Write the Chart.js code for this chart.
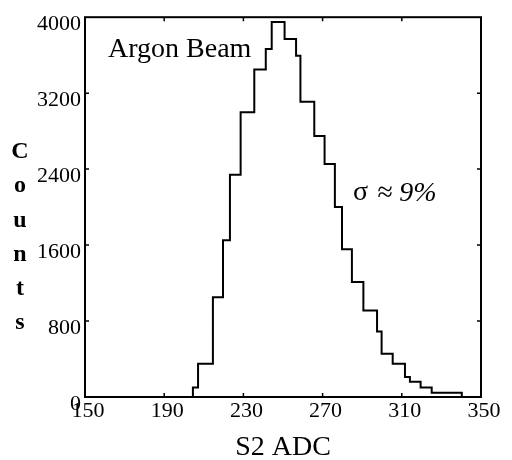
<!DOCTYPE html>
<html><head><meta charset="utf-8">
<script src="https://cdn.jsdelivr.net/npm/chart.js@4/dist/chart.umd.min.js"></script>
<style>html,body{margin:0;padding:0;background:#fff}#wrap{width:512px;height:460px}</style>
</head><body><div id="wrap"><canvas id="c" width="512" height="460"></canvas></div>
<script>
// Histogram: left edge of each bin (S2 ADC) and its count
const binEdges = [204.5, 207.1, 214.6, 219.7, 223.2, 228.6, 235.5, 241.3, 244.3, 250.8, 256.6, 258.8, 265.8, 271.0, 276.2, 279.8, 284.8, 290.6, 297.5, 299.8, 305.4, 311.6, 314.1, 319.5, 325.1, 340.3];
const counts   = [100, 350, 1050, 1650, 2340, 3000, 3450, 3665, 3950, 3770, 3595, 3110, 2750, 2455, 2000, 1555, 1210, 910, 690, 455, 350, 210, 160, 100, 45, 0];
const xTicks = [150, 190, 230, 270, 310, 350];
const yTicks = [0, 800, 1600, 2400, 3200, 4000];
const xTitle = 'S2 ADC';
const yTitleLetters = ['C', 'o', 'u', 'n', 't', 's'];
const labelMain = 'Argon Beam';
const labelSigmaSym = 'σ';
const labelSigmaVal = '≈ 9%';

// each point: horizontal run at the previous height up to this edge, then step to this bin's count
const points = [{x: xTicks[0], y: 0}].concat(binEdges.map((e, i) => ({x: e, y: counts[i]}))).concat([{x: xTicks[xTicks.length - 1], y: 0}]);

const serif = '"Liberation Serif", "DejaVu Serif", serif';

const framePlugin = {
  id: 'frame',
  afterDraw(chart) {
    const {ctx, chartArea: a, scales: {x, y}} = chart;
    ctx.save();
    ctx.strokeStyle = '#000';
    ctx.lineWidth = 2;
    ctx.strokeRect(a.left, a.top, a.right - a.left, a.bottom - a.top);
    ctx.lineWidth = 1.5;
    const tl = 4;
    ctx.beginPath();
    xTicks.slice(1, -1).forEach(v => {
      const px = x.getPixelForValue(v);
      ctx.moveTo(px, a.bottom); ctx.lineTo(px, a.bottom - tl);
      ctx.moveTo(px, a.top); ctx.lineTo(px, a.top + tl);
    });
    yTicks.slice(1, -1).forEach(v => {
      const py = y.getPixelForValue(v);
      ctx.moveTo(a.left, py); ctx.lineTo(a.left + tl, py);
      ctx.moveTo(a.right, py); ctx.lineTo(a.right - tl, py);
    });
    ctx.stroke();

    ctx.fillStyle = '#000';
    // vertical stacked y title
    ctx.font = 'bold 24px ' + serif;
    ctx.textAlign = 'center';
    ctx.textBaseline = 'middle';
    yTitleLetters.forEach((ch, i) => {
      ctx.fillText(ch, 20, 152 + i * 34.2);
    });
    // annotations
    ctx.textAlign = 'left';
    ctx.textBaseline = 'alphabetic';
    ctx.font = '28px ' + serif;
    ctx.fillText(labelMain, 108, 57);
    ctx.fillText(labelSigmaSym, 353, 200);
    ctx.font = 'italic 28px ' + serif;
    ctx.fillText(labelSigmaVal, 377, 201);
    ctx.restore();
  }
};

new Chart(document.getElementById('c'), {
  type: 'line',
  data: {
    datasets: [{
      data: points,
      borderColor: '#000',
      borderWidth: 2,
      pointRadius: 0,
      fill: false,
      stepped: 'before',
      tension: 0
    }]
  },
  options: {
    responsive: false,
    animation: false,
    devicePixelRatio: 1,
    layout: {padding: {left: 0, top: 11, right: 31, bottom: 0}},
    plugins: {legend: {display: false}, tooltip: {enabled: false}},
    scales: {
      x: {
        type: 'linear',
        min: xTicks[0], max: xTicks[xTicks.length - 1],
        afterBuildTicks: s => { s.ticks = xTicks.map(v => ({value: v})); },
        afterFit: s => { s.height = 63; },
        grid: {display: false, drawTicks: false},
        border: {display: false},
        ticks: {color: '#000', font: {family: serif, size: 22}, padding: 1, labelOffset: 3, maxRotation: 0, autoSkip: false,
                callback: v => String(v)},
        title: {display: true, text: xTitle, color: '#000', font: {family: serif, size: 28, lineHeight: 0.85}, padding: {top: 0, bottom: 0}}
      },
      y: {
        min: yTicks[0], max: yTicks[yTicks.length - 1],
        afterBuildTicks: s => { s.ticks = yTicks.map(v => ({value: v})); },
        afterFit: s => { s.width = 85; },
        grid: {display: false, drawTicks: false},
        border: {display: false},
        ticks: {color: '#000', font: {family: serif, size: 22}, padding: 4, labelOffset: 7, autoSkip: false,
                callback: v => String(v)}
      }
    }
  },
  plugins: [framePlugin]
});
</script>
</body></html>
